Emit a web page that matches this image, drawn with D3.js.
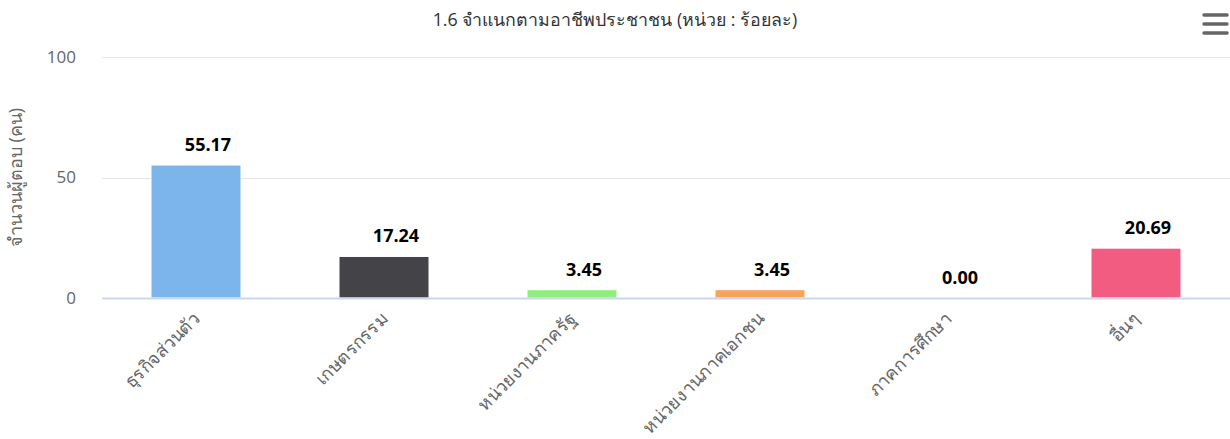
<!DOCTYPE html>
<html>
<head>
<meta charset="utf-8">
<script src="https://cdn.jsdelivr.net/npm/d3@7"></script>
<style>
    body { margin: 0; background: #fff; }
    svg { font-family: "Open Sans", "Noto Sans", sans-serif; }
</style>
</head>
<body>
<div id="chart"></div>
<script>
// data
var categories = ["ธุรกิจส่วนตัว", "เกษตรกรรม", "หน่วยงานภาครัฐ", "หน่วยงานภาคเอกชน", "ภาคการศึกษา", "อื่นๆ"];
var values = [55.17, 17.24, 3.45, 3.45, 0.00, 20.69];
var colors = ["#7cb5ec", "#434348", "#90ed7d", "#f7a35c", "#8085e9", "#f15c80"];
var yTicks = [0, 50, 100];

// settings
var W = 1230, H = 439;
var margin = {top: 57, right: 0, bottom: 141, left: 102};
var innerW = W - margin.left - margin.right;
var innerH = H - margin.top - margin.bottom;

var svg = d3.select("#chart").append("svg")
        .attr("width", W).attr("height", H);

// title
svg.append("text").text("1.6 จำแนกตามอาชีพประชาชน (หน่วย : ร้อยละ)")
        .attr("x", W / 2).attr("y", 26)
        .attr("text-anchor", "middle")
        .attr("fill", "#333").style("font-size", "17.8px");

// menu icon
svg.append("g").selectAll("line").data([0, 1, 2]).enter().append("line")
        .attr("x1", 1204).attr("x2", 1227)
        .attr("y1", function (d) { return 15 + d * 9; })
        .attr("y2", function (d) { return 15 + d * 9; })
        .attr("stroke", "#666").attr("stroke-width", 3.5)
        .attr("stroke-linecap", "round");

var g = svg.append("g")
        .attr("transform", "translate(" + margin.left + "," + margin.top + ")");

var x = d3.scaleBand().domain(categories).range([0, innerW]).paddingInner(0).paddingOuter(0);
var y = d3.scaleLinear().domain([0, 100]).range([innerH, 0]);

// grid lines
g.selectAll(".grid").data(yTicks).enter().append("line")
        .attr("x1", 0).attr("x2", innerW)
        .attr("y1", function (d) { return Math.round(y(d)) + 0.5; })
        .attr("y2", function (d) { return Math.round(y(d)) + 0.5; })
        .attr("stroke", "#e6e6e6");

// y axis labels
var yaxis = d3.axisLeft(y).tickValues(yTicks).tickSize(0).tickPadding(26);
var gy = g.append("g").call(yaxis);
gy.select(".domain").remove();
gy.selectAll("text").attr("fill", "#666").style("font-size", "17px")
        .style("font-family", "\"Open Sans\", sans-serif");

// y title
svg.append("text").text("จำนวนผู้ตอบ (คน)")
        .attr("transform", "translate(22," + (margin.top + innerH / 2) + ") rotate(-90)")
        .attr("text-anchor", "middle")
        .attr("fill", "#666").style("font-size", "18px");

// bars
var bw = 90;
g.selectAll(".bar").data(values).enter().append("rect")
        .attr("x", function (d, i) { return x(categories[i]) + (x.bandwidth() - bw) / 2; })
        .attr("y", function (d) { return y(d); })
        .attr("width", bw)
        .attr("height", function (d) { return y(0) - y(d); })
        .attr("fill", function (d, i) { return colors[i]; })
        .attr("stroke", "#fff").attr("stroke-width", 1);

// x axis line
g.append("line").attr("x1", 0).attr("x2", innerW)
        .attr("y1", innerH + 0.5).attr("y2", innerH + 0.5)
        .attr("stroke", "#ccd6eb").attr("stroke-width", 2);

// data labels
g.selectAll(".dlabel").data(values).enter().append("text")
        .text(function (d) { return d.toFixed(2); })
        .attr("x", function (d, i) { return x(categories[i]) + x.bandwidth() / 2 + 12; })
        .attr("y", function (d) { return y(d) - 14; })
        .attr("text-anchor", "middle")
        .attr("fill", "#000").style("font-weight", "bold").style("font-size", "18px")
        .style("font-family", "\"Open Sans\", sans-serif");

// x labels
g.selectAll(".xlabel").data(categories).enter().append("text")
        .text(function (d) { return d; })
        .attr("transform", function (d) {
            return "translate(" + (x(d) + x.bandwidth() / 2 + 5) + "," + (innerH + 22) + ") rotate(-45)";
        })
        .attr("text-anchor", "end")
        .attr("fill", "#666").style("font-size", "18px");
</script>
</body>
</html>
